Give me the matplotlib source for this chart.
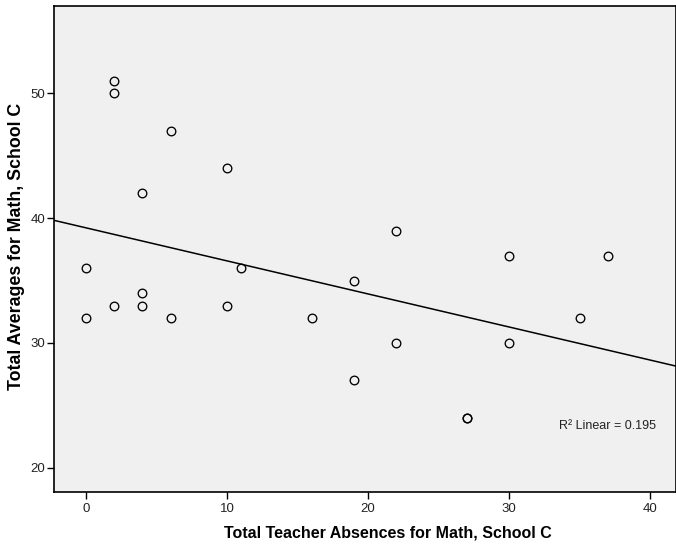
import numpy as np
import matplotlib.pyplot as plt

plt.rcParams['font.family'] = ['Liberation Sans', 'DejaVu Sans']

# teacher absences (x) and math averages (y), School C
absences = [0, 0, 2, 2, 2, 4, 4, 4, 6, 6, 10, 10, 11, 16, 19, 19, 22, 22, 27, 27, 30, 30, 35, 37]
averages = [36, 32, 51, 50, 33, 42, 34, 33, 47, 32, 44, 33, 36, 32, 35, 27, 39, 30, 24, 24, 37, 30, 32, 37]
x_ticks = [0, 10, 20, 30, 40]
y_ticks = [20, 30, 40, 50]
r2_text = "R\u00b2 Linear = 0.195"

fig = plt.figure(figsize=(6.76, 5.46), dpi=100)
ax = fig.add_axes([54 / 676, 1 - 491.7 / 546, 621.5 / 676, 485.7 / 546])
ax.set_facecolor('#f0f0f0')

ax.plot(absences, averages, 'o', mfc='none', mec='black', ms=6.2, mew=0.95, zorder=3)

# linear fit line over the whole x range
xlim = (-2.27, 41.8)
slope, icept = np.polyfit(absences, averages, 1)
xs = np.array(xlim)
ax.plot(xs, icept + slope * xs, color='black', lw=1.1, zorder=2)

ax.set_xlim(*xlim)
ax.set_ylim(18.08, 57.0)
ax.set_xticks(x_ticks)
ax.set_yticks(y_ticks)
ax.tick_params(direction='out', length=5, width=1, colors='black', labelcolor='#222222',
               labelsize=9.5, pad=1.2)
ax.tick_params(axis='x', pad=3)
for s in ax.spines.values():
    s.set_linewidth(1.2)

ax.text(0.812, 0.136, r2_text, transform=ax.transAxes, fontsize=9, color='#222222',
        ha='left', va='center')

ax.set_xlabel('Total Teacher Absences for Math, School C', fontsize=11.5, fontweight='bold')
ax.xaxis.set_label_coords(0.537, -0.0706)
ax.set_ylabel('Total Averages for Math, School C', fontsize=12.8, fontweight='bold')
ax.yaxis.set_label_coords(-0.047, 0.505)

fig.savefig('out.png', dpi=100)
